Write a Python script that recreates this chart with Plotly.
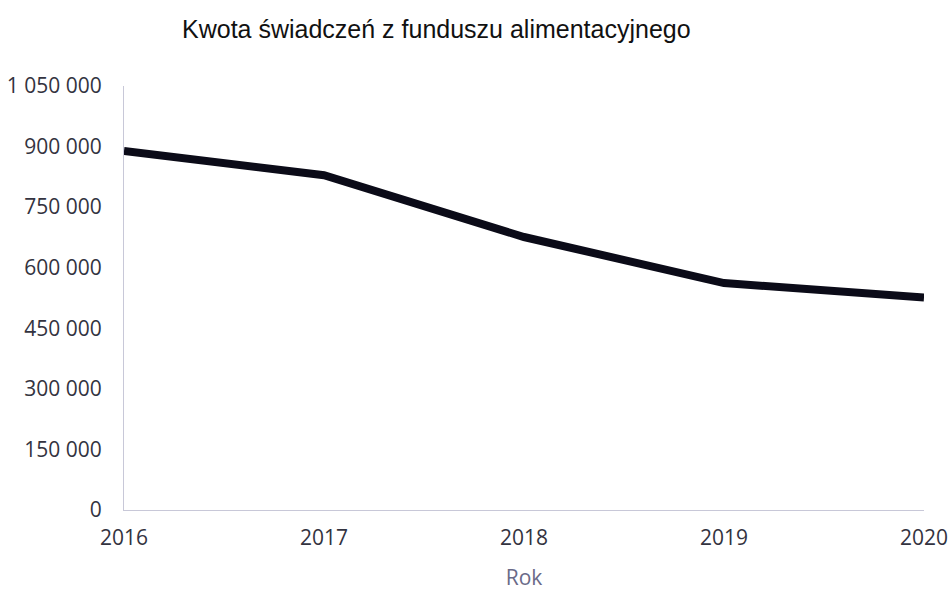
import plotly.graph_objects as go

# Annual totals of maintenance fund benefits
years = [2016, 2017, 2018, 2019, 2020]
amounts = [889000, 829000, 676000, 562000, 526000]

y_ticks = [0, 150000, 300000, 450000, 600000, 750000, 900000, 1050000]
y_tick_labels = ["0", "150 000", "300 000", "450 000", "600 000", "750 000", "900 000", "1 050 000"]

fig = go.Figure(
    go.Scatter(
        x=years,
        y=amounts,
        mode="lines",
        line=dict(color="#0b0b18", width=8),
        hoverinfo="x+y",
    )
)

fig.update_layout(
    width=948,
    height=591,
    margin=dict(l=124, r=24, t=86, b=81),
    paper_bgcolor="white",
    plot_bgcolor="white",
    showlegend=False,
    font=dict(family="Open Sans", color="#333340"),
    title=dict(
        text="Kwota świadczeń z funduszu alimentacyjnego",
        font=dict(family="Liberation Sans", size=25, color="#111111"),
        x=182 / 948,
        xanchor="left",
        xref="container",
        y=1 - 29 / 591,
        yanchor="middle",
        yref="container",
    ),
)

fig.update_xaxes(
    range=[2016, 2020],
    tickvals=years,
    ticktext=[str(y) for y in years],
    automargin=False,
    ticklabeloverflow="allow",
    showgrid=False,
    zeroline=False,
    showline=True,
    linecolor="#c8c8d8",
    linewidth=1,
    ticks="outside",
    ticklen=9,
    tickcolor="rgba(0,0,0,0)",
    tickfont=dict(size=21, color="#333340"),
    title=dict(text="Rok", font=dict(size=21, color="#6a6a88"), standoff=22),
)

fig.update_yaxes(
    range=[0, 1050000],
    tickvals=y_ticks,
    ticktext=y_tick_labels,
    automargin=False,
    ticklabeloverflow="allow",
    showgrid=False,
    zeroline=False,
    showline=True,
    linecolor="#c8c8d8",
    linewidth=1,
    ticks="outside",
    ticklen=17,
    tickcolor="rgba(0,0,0,0)",
    tickfont=dict(size=21, color="#333340"),
)

fig.write_html("out.html")
